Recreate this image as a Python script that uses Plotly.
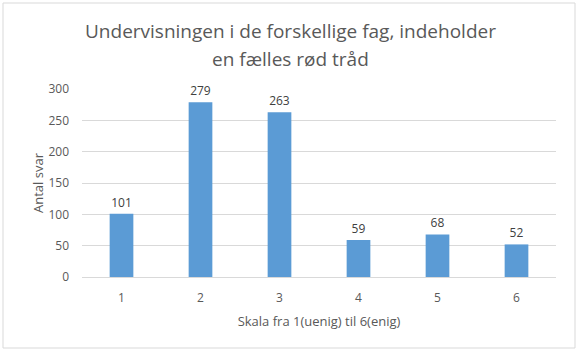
import plotly.graph_objects as go

categories = ["1", "2", "3", "4", "5", "6"]
values = [101, 279, 263, 59, 68, 52]
y_ticks = [0, 50, 100, 150, 200, 250, 300]
title_lines = ["Undervisningen i de forskellige fag, indeholder", "en fælles rød tråd"]

L, R, T, B = 82, 23, 89, 75
W, H = 579, 352
pw, ph = W - L - R, H - T - B

fig = go.Figure(go.Bar(
    x=categories, y=values,
    marker=dict(color="#5B9BD5", line=dict(width=0)),
    width=0.3,
    text=[str(v) for v in values], textposition="outside",
    textfont=dict(size=12, color="#404040", family="Open Sans"),
    cliponaxis=False,
))

fig.update_layout(
    width=W, height=H,
    margin=dict(l=L, r=R, t=T, b=B),
    paper_bgcolor="white", plot_bgcolor="white",
    font=dict(family="Open Sans", color="#595959"),
    showlegend=False,
    xaxis=dict(
        type="category", showgrid=False, zeroline=False,
        showline=True, linecolor="#D9D9D9", linewidth=1,
        tickfont=dict(size=12, color="#595959"), ticks="", ticklabelstandoff=10,
        title=dict(text="Skala fra 1(uenig) til 6(enig)", font=dict(size=13, color="#595959"), standoff=11),
    ),
    yaxis=dict(
        range=[0, 300], tickvals=y_ticks, showgrid=True, gridcolor="#D9D9D9", gridwidth=1,
        zeroline=False, showline=False, ticks="", ticklabelstandoff=12,
        tickfont=dict(size=12, color="#595959"),
        title=dict(text="Antal svar", font=dict(size=13, color="#595959"), standoff=1),
    ),
    bargap=0.7,
)

for i, line in enumerate(title_lines):
    fig.add_annotation(
        text=line, xref="paper", yref="paper",
        x=(290 - L) / pw, y=(T + ph - (31 + 28 * i)) / ph,
        xanchor="center", yanchor="middle", showarrow=False,
        font=dict(size=19, color="#595959", family="Open Sans"),
    )

fig.add_shape(
    type="rect", xref="paper", yref="paper",
    x0=(3 - L) / pw, x1=(575 - L) / pw,
    y0=(T + ph - 348) / ph, y1=(T + ph - 3) / ph,
    line=dict(color="#D9D9D9", width=1), fillcolor="rgba(0,0,0,0)", layer="below",
)

fig.write_html("out.html")
